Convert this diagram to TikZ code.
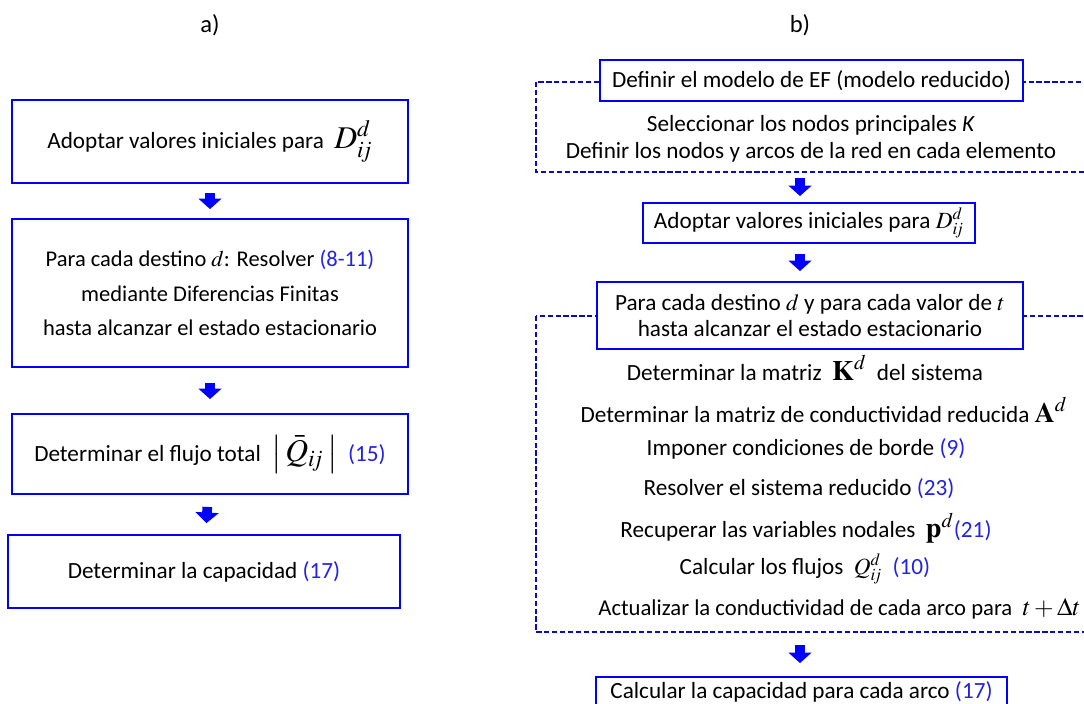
\documentclass[tikz,border=0pt]{standalone}
\usepackage{mathptmx}
\usepackage[no-math]{fontspec}
\setmainfont{Carlito}
\usetikzlibrary{arrows.meta}

\definecolor{caja}{RGB}{0,0,255}
\definecolor{trazo}{RGB}{10,10,190}
\definecolor{refe}{RGB}{35,35,225}
\newcommand{\eqref}[1]{\textcolor{refe}{(#1)}}
\newcommand{\mat}[1]{{\fontsize{16}{18}\selectfont$#1$}}
\newcommand{\grande}[1]{{\fontsize{18}{20}\selectfont$#1$}}

\begin{document}
\begin{tikzpicture}[x=0.02cm, y=0.02cm,
  every node/.style={font=\fontsize{13.2}{15}\selectfont},
  caja/.style={draw=caja, line width=1.1pt, fill=white, align=center, inner sep=0pt},
  marco/.style={draw=trazo, line width=0.8pt, dash pattern=on 3pt off 1.5pt},
  flecha/.style={draw=caja, line width=5.5pt, -{Triangle[width=13pt,length=6pt]}}]

\useasboundingbox (0,0) rectangle (1084,-703);
\clip (0,0) rectangle (1084,-703);

\node[font=\fontsize{14}{16}\selectfont] (tita) at (210,-25) {a)};
\node[font=\fontsize{14}{16}\selectfont] (titb) at (800,-25) {b)};

\node[caja, minimum width=7.92cm, minimum height=1.66cm] (a1) at (210,-141.5)
  {Adoptar valores iniciales para \ \grande{D_{i\!j}^{d}}};
\node[caja, minimum width=7.92cm, minimum height=2.96cm,
  font=\fontsize{12.8}{19.6}\selectfont] (a2) at (210,-293)
  {Para cada destino $d$: Resolver \eqref{8-11}\\ mediante Diferencias Finitas\\
   hasta alcanzar el estado estacionario};
\node[caja, minimum width=7.92cm, minimum height=1.6cm] (a3) at (210,-454)
  {Determinar el flujo total \ \grande{\big|\,\bar{Q}_{i\!j}\,\big|} \ \eqref{15}};
\node[caja, minimum width=7.84cm, minimum height=1.46cm] (a4) at (204,-571.5)
  {Determinar la capacidad \eqref{17}};

\draw[flecha, shorten <=0.18cm, shorten >=0.18cm] (a1) -- (a2);
\draw[flecha, shorten <=0.3cm, shorten >=0.28cm] (a2) -- (a3);
\draw[flecha, shorten <=0.24cm, shorten >=0.22cm] (a3) -- (a4);

\draw[marco] (536,-82) rectangle (1110,-172);
\coordinate (m1) at (800,-172);
\node[caja, minimum width=8.46cm, minimum height=0.82cm] (b1) at (811.5,-80.5)
  {Definir el modelo de EF (modelo reducido)};
\node (sel) at (811,-125) {Seleccionar los nodos principales \textit{K}};
\node (red) at (811,-152) {Definir los nodos y arcos de la red en cada elemento};

\node[caja, minimum width=6.64cm, minimum height=0.8cm] (b2) at (809,-223)
  {Adoptar valores iniciales para $D_{i\!j}^{d}$};

\draw[marco] (536,-316) rectangle (1110,-632);
\coordinate (m2) at (800,-632);
\node[caja, minimum width=8.52cm, minimum height=1.34cm,
  font=\fontsize{13.2}{14.8}\selectfont] (b3) at (810,-315.5)
  {Para cada destino $d$ y para cada valor de $t$\\ hasta alcanzar el estado estacionario};

\node (kd) at (805,-368) {Determinar la matriz \ \mat{\mathbf{K}^{d}} \ del sistema};
\node (ad) at (824,-410) {Determinar la matriz de conductividad reducida \mat{\mathbf{A}^{d}}};
\node (borde) at (806,-449) {Imponer condiciones de borde \eqref{9}};
\node (resol) at (799,-489) {Resolver el sistema reducido \eqref{23}};
\node (recup) at (806,-528) {Recuperar las variables nodales \ \mat{\mathbf{p}^{d}}\eqref{21}};
\node (flujos) at (805,-569) {Calcular los flujos \ $Q_{i\!j}^{d}$ \ \eqref{10}};
\node[anchor=east, inner sep=0pt, font=\fontsize{12.9}{15}\selectfont] (actual) at (1081,-609)
  {Actualizar la conductividad de cada arco para\ \ {\fontsize{14.3}{16}\selectfont$t+\Delta t$}};

\node[caja, minimum width=8.22cm, minimum height=0.6cm] (b4) at (801.5,-692)
  {Calcular la capacidad para cada arco \eqref{17}};

\draw[flecha, shorten <=0.12cm, shorten >=0.12cm] (m1) -- (m1 |- b2.north);
\draw[flecha, shorten <=0.2cm, shorten >=0.2cm] (b2.south -| m1) -- (m1 |- b3.north);
\draw[flecha, shorten <=0.26cm, shorten >=0.26cm] (m2) -- (m2 |- b4.north);

\end{tikzpicture}
\end{document}
